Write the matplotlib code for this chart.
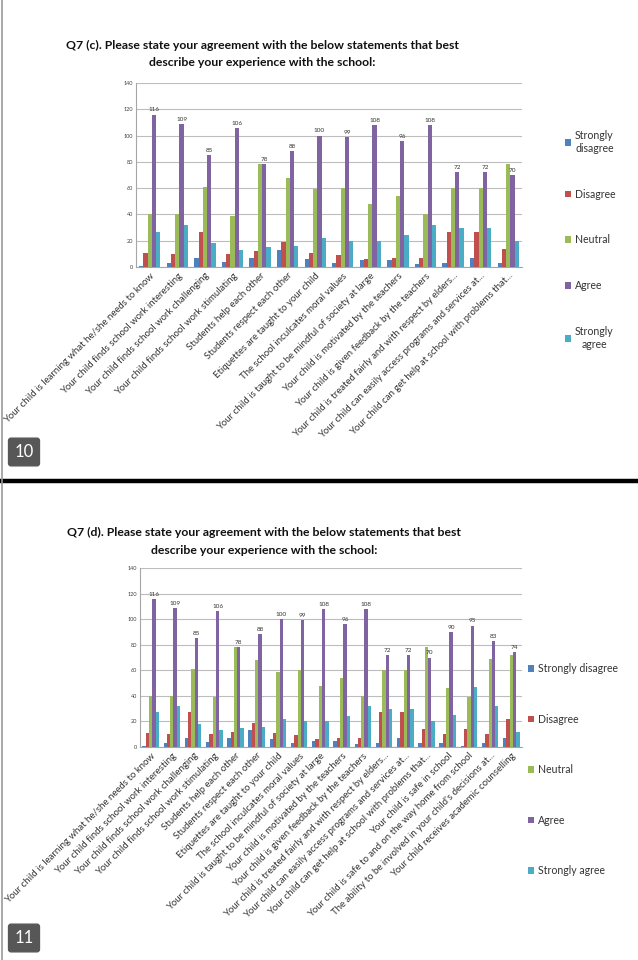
import matplotlib
matplotlib.use("Agg")
import matplotlib.pyplot as plt
import numpy as np
from matplotlib.lines import Line2D
from matplotlib.patches import Patch

plt.rcParams['font.family'] = ['Lato', 'DejaVu Sans']

# ---------------- data ----------------
series = ["Strongly disagree", "Disagree", "Neutral", "Agree", "Strongly agree"]
colors = ["#4F81BD", "#C0504D", "#9BBB59", "#8064A2", "#4BACC6"]

cats_c = [
    "Your child is learning what he/she needs to know",
    "Your child finds school work interesting",
    "Your child finds school work challenging",
    "Your child finds school work stimulating",
    "Students help each other",
    "Students respect each other",
    "Etiquettes are taught to your child",
    "The school inculcates moral values",
    "Your child is taught to be mindful of society at large",
    "Your child is motivated by the teachers",
    "Your child is given feedback by the teachers",
    "Your child is treated fairly and with respect by elders...",
    "Your child can easily access programs and services at...",
    "Your child can get help at school with problems that...",
]
sd_c = [1, 3, 7, 4, 7, 13, 6, 3, 5, 5, 2, 3, 7, 3]
d_c = [11, 10, 27, 10, 12, 19, 11, 9, 6, 7, 7, 27, 27, 14]
n_c = [40, 40, 61, 39, 78, 68, 59, 60, 48, 54, 40, 60, 60, 78]
a_c = [116, 109, 85, 106, 78, 88, 100, 99, 108, 96, 108, 72, 72, 70]
sa_c = [27, 32, 18, 13, 15, 16, 22, 20, 20, 24, 32, 30, 30, 20]

cats_d = cats_c + [
    "Your child is safe in school",
    "Your child is safe to and on the way home from school",
    "The ability to be involved in your child's decisions at...",
    "Your child receives academic counselling",
]
sd_d = sd_c + [3, 1, 3, 7]
d_d = d_c + [10, 14, 10, 22]
n_d = n_c + [46, 39, 69, 72]
a_d = a_c + [90, 95, 83, 74]
sa_d = sa_c + [25, 47, 32, 12]

title_c = ["Q7 (c). Please state your agreement with the below statements that best",
           "describe your experience with the school:"]
title_d = ["Q7 (d). Please state your agreement with the below statements that best",
           "describe your experience with the school:"]
legend_c = ["Strongly\ndisagree", "Disagree", "Neutral", "Agree", "Strongly\nagree"]
legend_d = series
yticks = [0, 20, 40, 60, 80, 100, 120, 140]

# ---------------- layout helpers ----------------
W, H = 638, 960
fig = plt.figure(figsize=(W / 100, H / 100), dpi=100)
fig.patch.set_facecolor("white")


def px_axes(left, top, right, bottom):
    return fig.add_axes([left / W, 1 - bottom / H, (right - left) / W, (bottom - top) / H])


def draw_chart(ax, cats, vals, leg_labels, leg_anchor, leg_spacing, leg_fs):
    n = len(cats)
    x = np.arange(n)
    bw = 0.155
    handles = []
    for i, (v, c) in enumerate(zip(vals, colors)):
        bars = ax.bar(x + (i - 2) * bw, v, width=bw, color=c, zorder=3, linewidth=0)
        if i == 3:
            ax.bar_label(bars, labels=[str(t) for t in v], padding=1.5, fontsize=4.6,
                         color="#333333")
        handles.append(Patch(facecolor=c, edgecolor="none"))
    ax.set_xlim(-0.5, n - 0.5)
    ax.set_ylim(0, 140)
    ax.set_yticks(yticks)
    ax.set_yticklabels([str(t) for t in yticks], fontsize=4.0, color="#404040")
    ax.set_xticks(x)
    ax.set_xticklabels(cats, rotation=45, ha="right", rotation_mode="anchor",
                       fontsize=6.9, color="#333333")
    ax.tick_params(axis="both", length=0, pad=2)
    ax.tick_params(axis="x", pad=3)
    ax.grid(axis="y", color="#BDBDBD", linewidth=0.8, zorder=0)
    for s in ["top", "right"]:
        ax.spines[s].set_visible(False)
    for s in ["left", "bottom"]:
        ax.spines[s].set_color("#A6A6A6")
        ax.spines[s].set_linewidth(0.8)
    leg = fig.legend(handles, leg_labels, loc="upper left", bbox_to_anchor=leg_anchor,
                     bbox_transform=fig.transFigure, frameon=False, fontsize=leg_fs,
                     handlelength=0.6, handleheight=0.6, handletextpad=0.35,
                     labelspacing=leg_spacing, borderaxespad=0, borderpad=0)
    for t in leg.get_texts():
        t.set_color("#333333")
        t.set_multialignment("center")
    return ax


# ---------------- top chart ----------------
fig.text(262 / W, 1 - 45 / H, title_c[0], ha="center", va="center", fontsize=8.8,
         fontweight="bold", color="#111111")
fig.text(262 / W, 1 - 63 / H, title_c[1], ha="center", va="center", fontsize=8.8,
         fontweight="bold", color="#111111")
ax1 = px_axes(136, 83, 522, 267)
draw_chart(ax1, cats_c, [sd_c, d_c, n_c, a_c, sa_c], legend_c,
           (565 / W, 1 - 130 / H), 3.3, 7.6)

# ---------------- bottom chart ----------------
fig.text(264 / W, 1 - 532 / H, title_d[0], ha="center", va="center", fontsize=8.8,
         fontweight="bold", color="#111111")
fig.text(264 / W, 1 - 551 / H, title_d[1], ha="center", va="center", fontsize=8.8,
         fontweight="bold", color="#111111")
ax2 = px_axes(140, 568, 522, 747)
draw_chart(ax2, cats_d, [sd_d, d_d, n_d, a_d, sa_d], legend_d,
           (528 / W, 1 - 663 / H), 3.75, 7.6)

# ---------------- decorations ----------------
fig.add_artist(Line2D([0, 1], [1 - 481 / H, 1 - 481 / H], transform=fig.transFigure,
                      color="black", linewidth=3.2))
fig.add_artist(Line2D([1.5 / W, 1.5 / W], [0, 1], transform=fig.transFigure,
                      color="#9A9A9A", linewidth=1.2))
for txt, ypx in [("10", 452), ("11", 938)]:
    fig.text(24 / W, 1 - ypx / H, txt, ha="center", va="center", fontsize=12,
             color="white",
             bbox=dict(boxstyle="round,pad=0.35,rounding_size=0.15",
                       facecolor="#575757", edgecolor="#575757"))

fig.savefig("out.png", dpi=100, facecolor="white")
